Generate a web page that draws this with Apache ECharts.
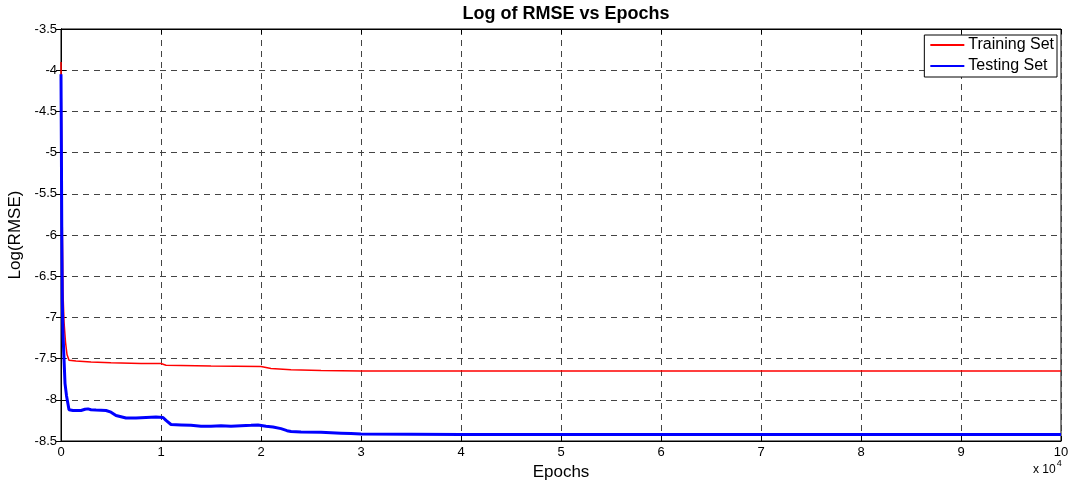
<!DOCTYPE html>
<html>
<head>
<meta charset="utf-8">
<script src="https://cdn.jsdelivr.net/npm/echarts@6/dist/echarts.min.js"></script>
<style>
  html, body { margin: 0; padding: 0; background: #fff; }
  #chart { width: 1068px; height: 485px; }
</style>
</head>
<body>
<div id="chart"></div>
<script>
// Training-set log RMSE per epoch
const trainEpochs = [0, 60, 120, 200, 300, 450, 600, 800, 1500, 3000, 5000, 8000, 10000, 10500, 15000, 20000, 21000, 23000, 26000, 30000, 100000];
const trainLog    = [-3.9, -4.8, -5.8, -6.7, -7.05, -7.3, -7.45, -7.52, -7.53, -7.54, -7.55, -7.56, -7.56, -7.58, -7.59, -7.595, -7.62, -7.635, -7.645, -7.65, -7.65];

// Testing-set log RMSE per epoch
const testEpochs = [0, 40, 80, 130, 200, 300, 400, 550, 800, 1200, 2000, 2400, 2700, 3000, 3500, 4500, 5000, 5500, 6500, 7500, 8500, 9500, 10200, 10500, 11000, 12000, 13000, 14000, 15000, 16000, 17000, 18000, 19000, 19700, 20500, 21200, 22000, 22600, 23000, 24000, 26000, 27000, 28000, 29000, 30000, 40000, 100000];
const testLog    = [-4.05, -5.0, -6.0, -6.8, -7.2, -7.5, -7.8, -7.95, -8.12, -8.13, -8.13, -8.115, -8.11, -8.12, -8.125, -8.13, -8.15, -8.19, -8.22, -8.22, -8.215, -8.21, -8.215, -8.25, -8.30, -8.305, -8.31, -8.32, -8.32, -8.315, -8.32, -8.315, -8.31, -8.305, -8.32, -8.33, -8.35, -8.375, -8.385, -8.39, -8.395, -8.40, -8.405, -8.41, -8.415, -8.42, -8.42];

const xTicks = [0, 10000, 20000, 30000, 40000, 50000, 60000, 70000, 80000, 90000, 100000];
const yTicks = [-3.5, -4, -4.5, -5, -5.5, -6, -6.5, -7, -7.5, -8, -8.5];

const font = 'Liberation Sans, Arial, sans-serif';
const pair = (xs, ys) => xs.map((x, i) => [x, ys[i]]);

const chart = echarts.init(document.getElementById('chart'));
const gridLine = { show: true, lineStyle: { color: '#444', width: 1, type: [6, 5] } };
const tickStyle = { show: true, inside: true, length: 5, lineStyle: { color: '#000' } };

chart.setOption({
  animation: false,
  backgroundColor: '#fff',
  title: {
    text: 'Log of RMSE vs Epochs',
    left: 561, top: 0, textAlign: 'center',
    textStyle: { fontFamily: font, fontWeight: 'bold', fontSize: 18, color: '#000' }
  },
  grid: {
    left: 61, right: 7, top: 29, bottom: 44,
    containLabel: false, outerBoundsMode: 'none',
    show: true, borderColor: '#000', borderWidth: 1
  },
  legend: {
    right: 11, top: 35,
    orient: 'vertical',
    itemGap: 5,
    padding: [2, 3, 3, 6],
    backgroundColor: '#fff',
    borderColor: '#000', borderWidth: 1,
    icon: 'rect', itemWidth: 34, itemHeight: 2,
    textStyle: { fontFamily: font, fontSize: 16, color: '#000', padding: [0, 0, 0, -1] },
    data: ['Training Set', 'Testing Set']
  },
  xAxis: [{
    type: 'value', min: xTicks[0], max: xTicks[xTicks.length - 1], interval: 10000,
    name: 'Epochs', nameLocation: 'middle', nameGap: 19,
    nameTextStyle: { fontFamily: font, fontSize: 17, color: '#000' },
    axisLine: { show: true, lineStyle: { color: '#000' } },
    axisTick: tickStyle,
    axisLabel: { fontFamily: font, fontSize: 13, color: '#000', margin: 5, formatter: v => String(v / 10000) },
    splitLine: gridLine
  }, {
    type: 'value', position: 'top', min: xTicks[0], max: xTicks[xTicks.length - 1], interval: 10000,
    axisLine: { show: true, lineStyle: { color: '#000' } },
    axisTick: tickStyle,
    axisLabel: { show: false }, splitLine: { show: false }
  }],
  yAxis: [{
    type: 'value', min: yTicks[yTicks.length - 1], max: yTicks[0], interval: 0.5,
    name: 'Log(RMSE)', nameLocation: 'middle', nameGap: 31, nameRotate: 90,
    nameTextStyle: { fontFamily: font, fontSize: 17, color: '#000' },
    axisLine: { show: true, lineStyle: { color: '#000' } },
    axisTick: tickStyle,
    axisLabel: { fontFamily: font, fontSize: 13, color: '#000', margin: 4 },
    splitLine: gridLine
  }, {
    type: 'value', position: 'right', min: yTicks[yTicks.length - 1], max: yTicks[0], interval: 0.5,
    axisLine: { show: true, lineStyle: { color: '#000' } },
    axisTick: tickStyle,
    axisLabel: { show: false }, splitLine: { show: false }
  }],
  graphic: [{
    type: 'text', left: 1033, top: 459,
    style: {
      text: '{a|x 10}{b|4}',
      rich: {
        a: { fontFamily: font, fontSize: 12, fill: '#000', padding: [7, 0, 0, 0] },
        b: { fontFamily: font, fontSize: 9, fill: '#000', padding: [0, 0, 5, 1] }
      }
    }
  }],
  series: [{
    name: 'Training Set', type: 'line', symbol: 'none', xAxisIndex: 0, yAxisIndex: 0,
    data: pair(trainEpochs, trainLog),
    lineStyle: { color: '#ff0000', width: 1.5 }, itemStyle: { color: '#ff0000' }
  }, {
    name: 'Testing Set', type: 'line', symbol: 'none', xAxisIndex: 0, yAxisIndex: 0,
    data: pair(testEpochs, testLog),
    lineStyle: { color: '#0000ff', width: 3 }, itemStyle: { color: '#0000ff' }
  }]
});
</script>
</body>
</html>
